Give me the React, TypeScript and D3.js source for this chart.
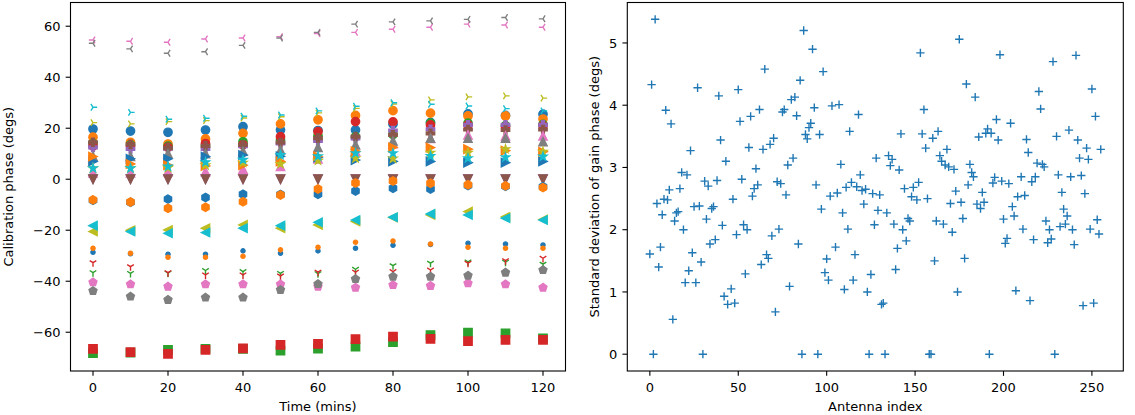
import React from "react";
import * as d3 from "d3";

// ---- left panel: calibration phase per time step ----
const times = [0, 10, 20, 30, 40, 50, 60, 70, 80, 90, 100, 110, 120];

const circleBlue = [19.7, 18.9, 18.4, 19.3, 20.6, 19.3, 19.1, 19.3, 21.6, 22.3, 25.6, 25.0, 25.5];
const circleOrange = [16.5, 14.5, 13.8, 15.8, 18.0, 21.7, 23.3, 25.0, 26.9, 25.9, 24.8, 24.8, 23.6];
const circleGreen = [14.0, 13.5, 13.0, 13.0, 14.7, 15.5, 17.0, 16.7, 17.5, 22.0, 22.0, 21.0, 21.5];
const circleRed = [13.0, 13.0, 12.5, 14.0, 13.5, 16.7, 18.7, 22.6, 22.5, 21.3, 21.3, 20.5, 21.0];
const squareGreen = [-68.2, -68.0, -66.9, -66.5, -66.5, -67.2, -66.4, -65.6, -63.9, -61.1, -60.1, -60.4, -62.4];
const squareRed = [-66.5, -67.8, -68.5, -66.9, -66.3, -65.0, -64.6, -62.7, -61.7, -62.6, -63.5, -63.0, -63.0];
const plusPurple = [12.5, 11.9, 12.0, 11.9, 13.0, 14.0, 15.0, 16.0, 19.1, 19.6, 21.3, 21.3, 21.3];
const plusBrown = [14.5, 13.7, 12.2, 13.1, 13.5, 14.4, 16.1, 16.7, 17.4, 18.0, 19.5, 19.3, 19.5];
const triUpPink = [2.5, 2.5, 3.0, 3.0, 4.0, 5.0, 8.0, 11.0, 14.0, 16.0, 17.4, 17.0, 17.0];
const triUpGray = [9.0, 9.0, 10.0, 10.0, 11.0, 11.5, 12.5, 13.5, 15.0, 16.1, 16.1, 16.1, 14.7];
const triLeftOlive = [-20.5, -20.0, -19.9, -19.2, -17.9, -19.2, -17.9, -16.6, -15.0, -14.0, -12.7, -14.8, -15.8];
const triLeftCyan = [-18.2, -20.5, -21.2, -20.9, -19.2, -18.2, -16.9, -16.0, -14.9, -13.6, -14.0, -15.3, -16.0];
const triRightBlue = [7.0, 8.0, 8.0, 8.9, 9.5, 9.0, 8.5, 7.5, 7.0, 7.0, 6.5, 6.5, 7.0];
const triRightOrange = [8.9, 6.0, 5.5, 5.2, 5.5, 7.0, 9.0, 11.0, 12.5, 12.4, 11.8, 11.2, 10.8];
const yDownGreen = [-36.6, -36.9, -36.8, -35.8, -36.2, -36.9, -37.0, -35.3, -33.9, -32.9, -32.4, -32.5, -33.3];
const yDownRed = [-32.7, -34.3, -36.6, -37.5, -37.5, -37.9, -36.4, -36.4, -36.2, -35.6, -32.9, -31.9, -31.0];
const refPurple = [0, 0, 0, 0, 0, 0, 0, 0, 0, 0, 0, 0, 0];
const refBrown = [0, 0, 0, 0, 0, 0, 0, 0, 0, 0, 0, 0, 0];
const pentPink = [-40.4, -41.2, -42.1, -41.2, -41.2, -41.2, -42.1, -42.5, -41.5, -41.8, -40.8, -41.2, -42.5];
const pentGray = [-43.8, -46.0, -47.3, -46.4, -46.4, -43.4, -41.1, -39.1, -38.2, -38.2, -37.8, -36.6, -35.6];
const yRightOlive = [22.2, 21.7, 22.6, 23.0, 24.0, 24.5, 26.0, 27.8, 29.5, 31.1, 32.3, 32.7, 31.8];
const yRightCyan = [28.2, 26.2, 23.5, 23.9, 24.7, 25.2, 26.8, 28.6, 30.0, 29.4, 28.7, 27.7, 26.8];
const hexBlue = [-8.3, -9.0, -7.8, -7.2, -5.9, -6.0, -5.9, -4.6, -3.5, -3.8, -2.5, -2.8, -2.9];
const hexOrange = [-8.1, -8.9, -11.4, -11.0, -8.8, -6.2, -3.8, -1.5, -0.7, -1.6, -2.2, -2.6, -3.3];
const yLeftPink = [54.6, 54.1, 53.7, 55.0, 55.4, 55.9, 57.1, 57.6, 58.8, 59.6, 60.8, 60.5, 59.6];
const yLeftGray = [53.3, 51.1, 49.4, 50.0, 52.5, 55.4, 57.6, 60.8, 61.7, 62.1, 62.7, 63.4, 62.9];
const starOlive = [4.3, 4.3, 4.5, 5.5, 6.5, 6.0, 7.3, 8.2, 8.1, 10.4, 10.4, 11.8, 10.8];
const starCyan = [4.3, 4.3, 5.0, 6.7, 7.6, 9.5, 9.0, 10.2, 10.2, 9.1, 8.2, 8.6, 8.9];
const dotBlue = [-28.6, -29.2, -29.4, -29.4, -28.1, -29.0, -28.1, -27.1, -25.9, -25.6, -25.1, -25.4, -25.8];
const dotOrange = [-27.1, -29.0, -30.6, -30.6, -30.2, -27.7, -26.7, -24.7, -24.2, -25.4, -26.7, -27.1, -27.1];

const phaseTicks = [-60, -40, -20, 0, 20, 40, 60];
const timeTicks = [0, 20, 40, 60, 80, 100, 120];

// ---- right panel: std of gain phase per antenna ----
const antennaIdx = [
  0, 1, 2, 3, 4, 5, 6, 7, 8, 9, 10, 11, 12, 13, 14, 15, 16, 17, 18, 19, 20, 21, 22, 23, 24, 25, 26, 27, 28, 29,
  30, 31, 32, 33, 34, 35, 36, 37, 38, 39, 40, 41, 42, 43, 44, 46, 47, 48, 49, 50, 51, 52, 53, 54, 55, 56, 57, 58, 59,
  60, 61, 62, 63, 64, 65, 66, 67, 68, 69, 70, 71, 72, 73, 74, 75, 76, 77, 78, 79, 80, 81, 82, 83, 84, 85, 86, 87, 88, 89,
  90, 91, 92, 93, 94, 95, 96, 97, 98, 99, 100, 101, 102, 103, 105, 106, 107, 108, 109, 110, 111, 112, 113, 114, 115, 116, 117, 118, 119,
  120, 121, 122, 123, 124, 125, 126, 127, 128, 129, 130, 131, 132, 133, 134, 135, 136, 137, 138, 139, 140, 141, 142, 143, 144, 145, 146, 147, 148, 149,
  151, 152, 153, 154, 155, 156, 157, 158, 159, 160, 161, 162, 163, 164, 165, 166, 167, 168, 169, 170, 171, 172, 173, 174, 175, 176, 177, 178, 179,
  180, 181, 182, 183, 184, 185, 186, 187, 188, 189, 190, 191, 192, 193, 194, 195, 196, 197, 198, 199, 200, 201, 202, 203, 204, 205, 206, 207, 208,
  210, 211, 212, 213, 214, 215, 216, 217, 218, 219, 220, 221, 222, 223, 224, 225, 226, 227, 228, 229, 230, 231, 232, 233, 234, 235, 236, 237, 238, 239,
  240, 241, 242, 243, 244, 245, 246, 247, 248, 249, 250, 251, 252, 253, 254, 255,
];
const gainStd = [
  1.61, 4.33, 0, 5.38, 2.42, 1.4, 1.72, 2.24, 2.49, 3.92, 2.48, 2.64, 3.7, 0.56, 2.14, 2.27, 2.29, 2.66, 2.92, 2.0, 1.15, 2.88, 1.34, 3.27, 1.63, 2.37, 1.15, 4.28, 2.38, 1.48,
  0, 2.78, 2.17, 2.7, 1.77, 2.34, 2.37, 1.84, 2.79, 4.15, 3.44, 2.07, 0.93, 3.1, 0.8, 1.05, 2.49, 0.82, 1.92, 4.25, 3.74, 2.81, 2.08, 1.29, 2.0, 3.32, 3.82, 2.54, 2.66,
  2.98, 2.72, 3.93, 1.44, 3.29, 4.58, 1.6, 1.54, 3.37, 1.9, 3.47, 0.68, 2.77, 2.01, 2.74, 3.89, 3.93, 2.56, 3.04, 1.09, 4.09, 3.15, 4.13, 3.83, 1.77, 4.4, 0, 5.2, 3.53, 3.46,
  3.64, 3.71, 4.9, 3.96, 2.72, 0, 3.53, 2.33, 4.54, 1.31, 1.53, 1.19, 2.54, 3.99, 1.72, 2.59, 4.01, 3.05, 2.27, 1.04, 2.68, 2.01, 3.58, 2.76, 1.19, 1.6, 2.69, 3.85, 2.88,
  2.63, 2.41, 2.65, 1.0, 0, 1.28, 2.58, 2.08, 3.15, 2.31, 2.56, 0.8, 0.82, 0, 2.27, 3.19, 3.03, 3.13, 2.09, 1.36, 1.7, 2.96, 3.54, 2.0, 2.66, 1.82, 2.18, 2.14, 2.53, 2.68,
  2.48, 2.76, 4.84, 3.54, 3.93, 3.31, 2.5, 0, 0, 3.47, 1.5, 2.14, 3.58, 3.19, 3.1, 2.09, 3.04, 3.29, 3.01, 2.42, 1.96, 2.97, 2.62, 1.0, 5.06, 2.44, 2.18, 1.54, 4.34,
  2.72, 3.05, 2.92, 2.85, 4.13, 2.41, 3.49, 2.34, 2.6, 2.44, 3.55, 3.62, 0, 3.55, 2.75, 2.84, 3.77, 3.44, 4.81, 2.78, 2.17, 1.78, 1.86, 2.74, 3.71, 2.37, 2.22, 1.02, 2.53,
  2.85, 2.01, 2.55, 3.45, 3.24, 0.86, 2.77, 1.84, 2.85, 3.07, 4.22, 3.94, 3.05, 3.01, 2.14, 1.79, 2.0, 1.85, 4.7, 0, 3.5, 2.88, 2.05, 2.6, 2.33, 2.09, 2.22, 3.6, 2.85, 2.0,
  1.76, 4.8, 3.44, 3.15, 2.87, 0.78, 2.58, 3.31, 3.13, 2.01, 4.26, 0.82, 3.82, 2.16, 1.93, 3.29,
];
const stdTicks = [0, 1, 2, 3, 4, 5];
const antennaTicks = [0, 50, 100, 150, 200, 250];

// matplotlib tab10
const C = ["#1f77b4", "#ff7f0e", "#2ca02c", "#d62728", "#9467bd", "#8c564b", "#e377c2", "#7f7f7f", "#bcbd22", "#17becf"];

const series = [
  { values: circleBlue, color: C[0], marker: "o" },
  { values: circleOrange, color: C[1], marker: "o" },
  { values: circleGreen, color: C[2], marker: "o" },
  { values: circleRed, color: C[3], marker: "o" },
  { values: squareGreen, color: C[2], marker: "s" },
  { values: squareRed, color: C[3], marker: "s" },
  { values: plusPurple, color: C[4], marker: "P" },
  { values: plusBrown, color: C[5], marker: "P" },
  { values: triUpPink, color: C[6], marker: "^" },
  { values: triUpGray, color: C[7], marker: "^" },
  { values: triLeftOlive, color: C[8], marker: "<" },
  { values: triLeftCyan, color: C[9], marker: "<" },
  { values: triRightBlue, color: C[0], marker: ">" },
  { values: triRightOrange, color: C[1], marker: ">" },
  { values: yDownGreen, color: C[2], marker: "1" },
  { values: yDownRed, color: C[3], marker: "1" },
  { values: refPurple, color: C[4], marker: "v" },
  { values: refBrown, color: C[5], marker: "v" },
  { values: pentPink, color: C[6], marker: "p" },
  { values: pentGray, color: C[7], marker: "p" },
  { values: yRightOlive, color: C[8], marker: "4" },
  { values: yRightCyan, color: C[9], marker: "4" },
  { values: hexBlue, color: C[0], marker: "h" },
  { values: hexOrange, color: C[1], marker: "h" },
  { values: yLeftPink, color: C[6], marker: "3" },
  { values: yLeftGray, color: C[7], marker: "3" },
  { values: starOlive, color: C[8], marker: "*" },
  { values: starCyan, color: C[9], marker: "*" },
  { values: dotBlue, color: C[0], marker: "." },
  { values: dotOrange, color: C[1], marker: "." },
];

const MS = 8.33; // 6pt marker at 100 dpi
const EW = 1.39; // 1pt edge
const FONT = "DejaVu Sans, Verdana, sans-serif";
const FS = 13;

// marker outline around (0,0) in screen coords
function poly(pts: [number, number][]) {
  return "M" + pts.map((p) => `${p[0].toFixed(2)},${p[1].toFixed(2)}`).join("L") + "Z";
}
function regular(n: number, r: number, inner?: number) {
  const pts: [number, number][] = [];
  const k = inner ? n * 2 : n;
  for (let i = 0; i < k; i++) {
    const a = (2 * Math.PI * i) / k + Math.PI / 2;
    const rr = inner && i % 2 === 1 ? r * inner : r;
    pts.push([rr * Math.cos(a), -rr * Math.sin(a)]);
  }
  return poly(pts);
}
function circle(r: number) {
  const p = d3.path();
  p.arc(0, 0, r, 0, 2 * Math.PI);
  p.closePath();
  return p.toString();
}
function tri(stem: [number, number], a1: [number, number], a2: [number, number]) {
  const h = MS / 2;
  return [stem, a1, a2].map((q) => `M0,0L${(q[0] * h).toFixed(2)},${(q[1] * h).toFixed(2)}`).join("");
}

function markerShape(m: string): { d: string; filled: boolean } {
  const h = MS / 2;
  switch (m) {
    case "o":
      return { d: circle(h), filled: true };
    case ".":
      return { d: circle(h / 2), filled: true };
    case "s":
      return { d: poly([[-h, -h], [h, -h], [h, h], [-h, h]]), filled: true };
    case "^":
      return { d: poly([[0, -h], [-h, h], [h, h]]), filled: true };
    case "v":
      return { d: poly([[0, h], [-h, -h], [h, -h]]), filled: true };
    case "<":
      return { d: poly([[-h, 0], [h, -h], [h, h]]), filled: true };
    case ">":
      return { d: poly([[h, 0], [-h, -h], [-h, h]]), filled: true };
    case "p":
      return { d: regular(5, h), filled: true };
    case "h":
      return { d: regular(6, h), filled: true };
    case "*":
      return { d: regular(5, h, 0.381966), filled: true };
    case "P": {
      const u = MS / 6;
      const raw: [number, number][] = [[-1, -3], [1, -3], [1, -1], [3, -1], [3, 1], [1, 1], [1, 3], [-1, 3], [-1, 1], [-3, 1], [-3, -1], [-1, -1]];
      return { d: poly(raw.map((q) => [q[0] * u, q[1] * u] as [number, number])), filled: true };
    }
    case "1":
      return { d: tri([0, 1], [0.8, -0.5], [-0.8, -0.5]), filled: false };
    case "3":
      return { d: tri([-1, 0], [0.5, -0.8], [0.5, 0.8]), filled: false };
    case "4":
      return { d: tri([1, 0], [-0.5, -0.8], [-0.5, 0.8]), filled: false };
    case "+":
      return { d: `M${-h},0L${h},0M0,${-h}L0,${h}`, filled: false };
    default:
      return { d: circle(h), filled: true };
  }
}

const fmt = (v: number) => (v < 0 ? "\u2212" + Math.abs(v) : String(v));

type Box = { x0: number; x1: number; y0: number; y1: number };

function Axes({
  box,
  x,
  y,
  xTicks,
  yTicks,
  xLabel,
  yLabel,
  yLabelX,
}: {
  box: Box;
  x: d3.ScaleLinear<number, number>;
  y: d3.ScaleLinear<number, number>;
  xTicks: number[];
  yTicks: number[];
  xLabel: string;
  yLabel: string;
  yLabelX: number;
}) {
  const tl = 4.86;
  const cy = (box.y0 + box.y1) / 2;
  return (
    <g fontFamily={FONT} fontSize={FS} fill="#000">
      <rect x={box.x0} y={box.y0} width={box.x1 - box.x0} height={box.y1 - box.y0} fill="none" stroke="#000" strokeWidth={1.1} />
      {xTicks.map((t) => (
        <g key={"x" + t}>
          <line x1={x(t)} x2={x(t)} y1={box.y1} y2={box.y1 + tl} stroke="#000" strokeWidth={1.1} />
          <text x={x(t)} y={392} textAnchor="middle">{fmt(t)}</text>
        </g>
      ))}
      {yTicks.map((t) => (
        <g key={"y" + t}>
          <line x1={box.x0 - tl} x2={box.x0} y1={y(t)} y2={y(t)} stroke="#000" strokeWidth={1.1} />
          <text x={box.x0 - 10} y={y(t) + 4.7} textAnchor="end">{fmt(t)}</text>
        </g>
      ))}
      <text x={(box.x0 + box.x1) / 2} y={411} textAnchor="middle">{xLabel}</text>
      <text transform={`translate(${yLabelX},${cy}) rotate(-90)`} textAnchor="middle">{yLabel}</text>
    </g>
  );
}

export default function App() {
  const leftBox: Box = { x0: 70.5, x1: 565.5, y0: 2.5, y1: 371 };
  const rightBox: Box = { x0: 627.3, x1: 1123.3, y0: 2.5, y1: 371 };

  const xT = d3.scaleLinear().domain([-6, 126]).range([leftBox.x0, leftBox.x1]);
  const yP = d3.scaleLinear().domain([-75.2, 69.3]).range([leftBox.y1, leftBox.y0]);
  const xA = d3.scaleLinear().domain([-12.75, 267.75]).range([rightBox.x0, rightBox.x1]);
  const yS = d3.scaleLinear().domain([-0.27, 5.65]).range([rightBox.y1, rightBox.y0]);

  const plus = markerShape("+");

  return (
    <svg width={1135} height={415} style={{ position: "absolute", left: 0, top: 0, background: "#fff" }}>
      <rect width={1135} height={415} fill="#fff" />
      <defs>
        <clipPath id="clipL">
          <rect x={leftBox.x0} y={leftBox.y0} width={leftBox.x1 - leftBox.x0} height={leftBox.y1 - leftBox.y0} />
        </clipPath>
        <clipPath id="clipR">
          <rect x={rightBox.x0} y={rightBox.y0} width={rightBox.x1 - rightBox.x0} height={rightBox.y1 - rightBox.y0} />
        </clipPath>
      </defs>

      <g clipPath="url(#clipL)">
        {series.map((s, i) => {
          const shape = markerShape(s.marker);
          return (
            <g key={i}>
              {s.values.map((v, j) => (
                <path
                  key={j}
                  d={shape.d}
                  transform={`translate(${xT(times[j])},${yP(v)})`}
                  fill={shape.filled ? s.color : "none"}
                  stroke={s.color}
                  strokeWidth={EW}
                />
              ))}
            </g>
          );
        })}
      </g>

      <g clipPath="url(#clipR)">
        {antennaIdx.map((a, i) => (
          <path
            key={i}
            d={plus.d}
            transform={`translate(${xA(a)},${yS(gainStd[i])})`}
            fill="none"
            stroke={C[0]}
            strokeWidth={EW}
          />
        ))}
      </g>

      <Axes
        box={leftBox}
        x={xT}
        y={yP}
        xTicks={timeTicks}
        yTicks={phaseTicks}
        xLabel="Time (mins)"
        yLabel="Calibration phase (degs)"
        yLabelX={13}
      />
      <Axes
        box={rightBox}
        x={xA}
        y={yS}
        xTicks={antennaTicks}
        yTicks={stdTicks}
        xLabel="Antenna index"
        yLabel="Standard deviation of gain phase (degs)"
        yLabelX={599}
      />
    </svg>
  );
}
